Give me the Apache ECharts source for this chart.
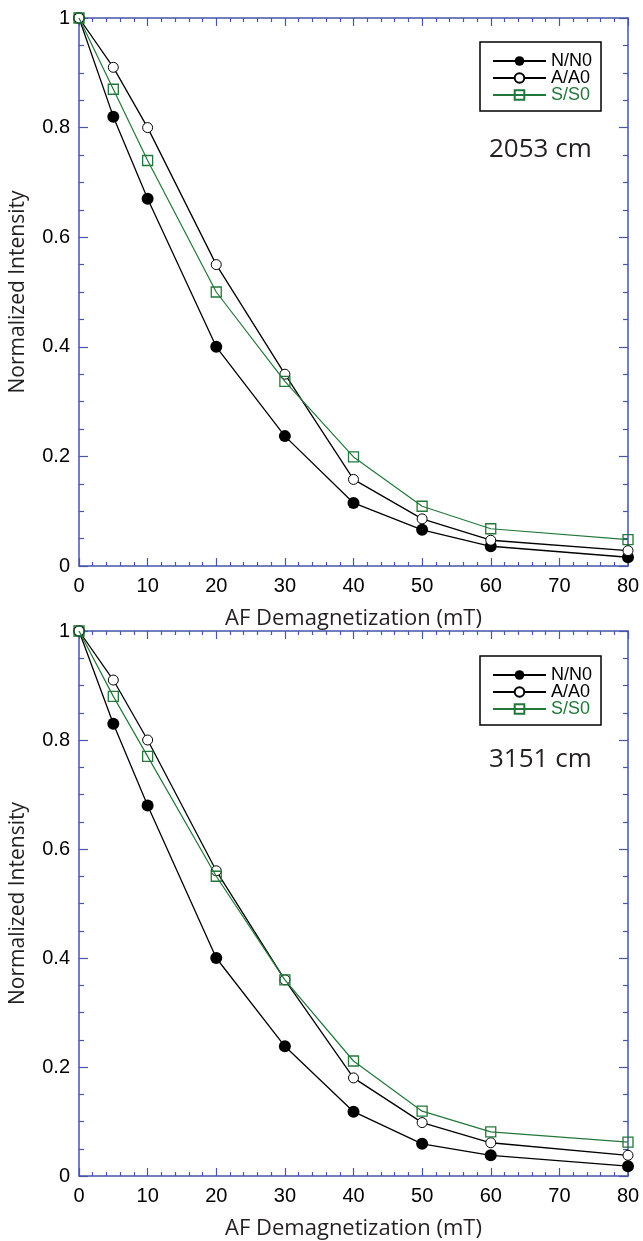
<!DOCTYPE html>
<html>
<head>
<meta charset="utf-8">
<script src="https://cdn.jsdelivr.net/npm/echarts@6/dist/echarts.min.js"></script>
<style>
html,body{margin:0;padding:0;background:#fff;}
#chart{width:643px;height:1241px;}
</style>
</head>
<body>
<div id="chart"></div>
<script>
// AF demagnetization steps (mT)
const afSteps = [0, 5, 10, 20, 30, 40, 50, 60, 80];

// Panel 1: 2053 cm
const n2053 = [1, 0.82, 0.67, 0.40, 0.237, 0.115, 0.066, 0.036, 0.016];
const a2053 = [1, 0.91, 0.80, 0.55, 0.35, 0.158, 0.086, 0.047, 0.028];
const s2053 = [1, 0.87, 0.74, 0.50, 0.337, 0.199, 0.109, 0.068, 0.048];

// Panel 2: 3151 cm
const n3151 = [1, 0.83, 0.68, 0.40, 0.238, 0.118, 0.059, 0.038, 0.018];
const a3151 = [1, 0.91, 0.80, 0.56, 0.36, 0.18, 0.098, 0.061, 0.038];
const s3151 = [1, 0.88, 0.77, 0.55, 0.36, 0.211, 0.119, 0.081, 0.062];

const panelLabels = ['2053 cm', '3151 cm'];
const seriesNames = ['N/N0', 'A/A0', 'S/S0'];
const xTitle = 'AF Demagnetization (mT)';
const yTitle = 'Normalized Intensity';

const AXIS = '#4656a8';
const GREEN = '#23773a';
const TICKFONT = 'Liberation Sans, Arial, sans-serif';
const TITLEFONT = 'Open Sans, sans-serif';

function pairs(ys) { return afSteps.map((x, i) => [x, ys[i]]); }

const grids = [
  {left: 78, top: 18, width: 550, height: 548},
  {left: 78, top: 631, width: 550, height: 550}
];

const xAxes = [], yAxes = [], series = [], legends = [], graphics = [];
const panelData = [[n2053, a2053, s2053], [n3151, a3151, s3151]];
const legendTops = [42, 656];
const labelTops = [150, 760];

grids.forEach((g, gi) => {
  const common = {
    type: 'value', gridIndex: gi, min: 0, max: 80, interval: 10,
    axisLine: {show: true, onZero: false, lineStyle: {color: AXIS, width: 1.5}},
    axisTick: {show: true, inside: true, length: 8, lineStyle: {color: AXIS, width: 1.2}},
    minorTick: {show: true, splitNumber: 5, length: 4, lineStyle: {color: AXIS, width: 1.2}},
    splitLine: {show: false}
  };
  xAxes.push(Object.assign({}, common, {
    position: 'bottom',
    name: xTitle, nameLocation: 'middle', nameGap: 42,
    nameTextStyle: {fontFamily: TITLEFONT, fontSize: 22, color: '#231f20'},
    axisLabel: {fontFamily: TICKFONT, fontSize: 20, color: '#000', margin: 10}
  }));
  xAxes.push(Object.assign({}, common, {position: 'top', axisLabel: {show: false}}));
  const ycommon = {
    type: 'value', gridIndex: gi, min: 0, max: 1, interval: 0.2,
    axisLine: {show: true, onZero: false, lineStyle: {color: AXIS, width: 1.5}},
    axisTick: {show: true, inside: true, length: 9, lineStyle: {color: AXIS, width: 1.2}},
    minorTick: {show: true, splitNumber: 4, length: 5, lineStyle: {color: AXIS, width: 1.2}},
    splitLine: {show: false}
  };
  yAxes.push(Object.assign({}, ycommon, {
    position: 'left',
    name: yTitle, nameLocation: 'middle', nameGap: 50, nameRotate: 90,
    nameTextStyle: {fontFamily: TITLEFONT, fontSize: 21, color: '#231f20'},
    axisLabel: {fontFamily: TICKFONT, fontSize: 20, color: '#000', margin: 9}
  }));
  yAxes.push(Object.assign({}, ycommon, {position: 'right', axisLabel: {show: false}}));

  const [nd, ad, sd] = panelData[gi];
  const xi = gi * 2, yi = gi * 2;
  series.push({
    name: seriesNames[0], type: 'line', xAxisIndex: xi, yAxisIndex: yi,
    data: pairs(nd), symbol: 'circle', symbolSize: 12, clip: false,
    lineStyle: {color: '#000', width: 1.3}, itemStyle: {color: '#000'}, z: 3
  });
  series.push({
    name: seriesNames[1], type: 'line', xAxisIndex: xi, yAxisIndex: yi,
    data: pairs(ad), symbol: 'circle', symbolSize: 10, clip: false,
    lineStyle: {color: '#000', width: 1.3},
    itemStyle: {color: '#fff', borderColor: '#000', borderWidth: 1}, z: 4
  });
  series.push({
    name: seriesNames[2], type: 'line', xAxisIndex: xi, yAxisIndex: yi,
    data: pairs(sd), symbol: 'rect', symbolSize: 10, clip: false,
    lineStyle: {color: GREEN, width: 1.2},
    itemStyle: {color: 'rgba(255,255,255,0)', borderColor: GREEN, borderWidth: 1.3}, z: 5
  });

  legends.push({
    orient: 'vertical', left: 480, top: legendTops[gi],
    padding: [10, 9, 7, 12],
    borderColor: '#000', borderWidth: 1.5, backgroundColor: '#fff',
    itemWidth: 53, itemHeight: 12, itemGap: -1,
    textStyle: {fontFamily: TICKFONT, fontSize: 18, lineHeight: 14, color: '#000', padding: [0, 0, 0, 0]},
    data: [
      {name: seriesNames[0]},
      {name: seriesNames[1]},
      {name: seriesNames[2], textStyle: {color: GREEN}}
    ],
    selectedMode: false
  });

  graphics.push({
    type: 'text', left: 489, top: labelTops[gi] - 13,
    style: {text: panelLabels[gi], font: '26px "Open Sans", sans-serif', fill: '#231f20'}
  });
});

const chart = echarts.init(document.getElementById('chart'), null, {renderer: 'canvas'});
chart.setOption({
  backgroundColor: '#fff',
  animation: false,
  grid: grids,
  xAxis: xAxes,
  yAxis: yAxes,
  series: series,
  legend: legends,
  graphic: graphics
});
</script>
</body>
</html>
